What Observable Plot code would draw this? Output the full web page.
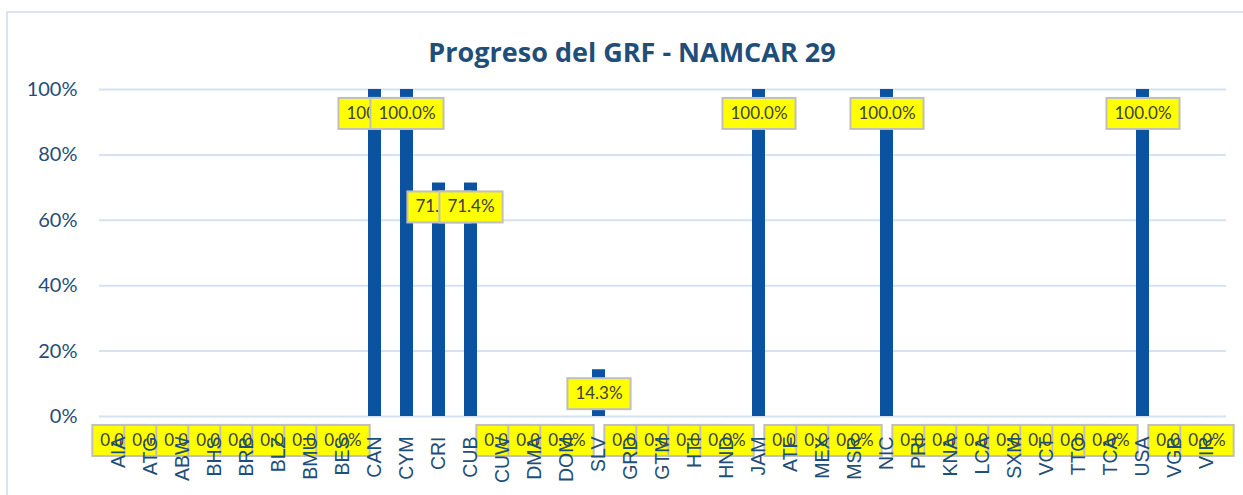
<!DOCTYPE html>
<html>
<head>
<meta charset="utf-8">
<script src="https://cdn.jsdelivr.net/npm/d3@7"></script>
<script src="https://cdn.jsdelivr.net/npm/@observablehq/plot@0.6"></script>
<style>
  body { margin: 0; background: #fff; }
  #wrap { position: relative; width: 1243px; height: 495px; overflow: hidden; }
  #border { position: absolute; left: 6px; top: 11px; width: 1400px; height: 700px; border: 2px solid #DAE3F3; pointer-events: none; }
</style>
</head>
<body>
<div id="wrap"><div id="chart"></div><div id="border"></div></div>
<script>
const title = "Progreso del GRF - NAMCAR 29";
const countries = ["AIA","ATG","ABW","BHS","BRB","BLZ","BMU","BES","CAN","CYM","CRI","CUB","CUW","DMA","DOM","SLV","GRD","GTM","HTI","HND","JAM","ATF","MEX","MSR","NIC","PRI","KNA","LCA","SXM","VCT","TTO","TCA","USA","VGB","VIR"];
const progress = [0,0,0,0,0,0,0,0,1.0,1.0,0.714,0.714,0,0,0,0.143,0,0,0,0,1.0,0,0,0,1.0,0,0,0,0,0,0,0,1.0,0,0];
const yTicks = [0,0.2,0.4,0.6,0.8,1.0];

const data = countries.map((c, i) => ({country: c, value: progress[i]}));
const navy = "#1F4E79";

const chart = Plot.plot({
  width: 1243,
  height: 495,
  marginLeft: 99,
  marginRight: 17,
  marginTop: 89,
  marginBottom: 79,
  style: {fontFamily: "Lato, sans-serif", background: "transparent", overflow: "visible"},
  x: {domain: countries, paddingInner: 0.6, paddingOuter: 0.3, label: null},
  y: {domain: [0, 1], label: null},
  marks: [
    Plot.gridY(yTicks, {stroke: "#D6E2F2", strokeOpacity: 1, strokeWidth: 2}),
    Plot.axisY(yTicks, {tickFormat: d3.format(".0%"), tickSize: 0, tickPadding: 22, fontSize: 20, fill: navy, label: null}),
    Plot.barY(data, {x: "country", y: "value", fill: "#0B52A1"}),
    Plot.text(data, {x: "country", y: "value", text: d => d3.format(".1%")(d.value), dy: 24, fontSize: 17, fill: "#404040", lineAnchor: "middle"}),
    Plot.axisX({tickRotate: -90, tickSize: 0, tickPadding: 20, fontSize: 19.5, fontFamily: "'Liberation Sans', Arial, sans-serif", fill: navy, label: null}),
    Plot.text([title], {frameAnchor: "top", dx: -31, dy: -47, fontSize: 27, fontWeight: "bold", fill: navy, fontFamily: "'Open Sans', sans-serif"})
  ]
});
document.getElementById("chart").appendChild(chart);

// draw yellow label boxes behind each data label text (interleaved so later boxes cover earlier ones)
const ns = "http://www.w3.org/2000/svg";
const labelGroup = chart.querySelectorAll('g[aria-label="text"]')[0];
labelGroup.querySelectorAll("text").forEach(t => {
  const b = t.getBBox();
  const r = document.createElementNS(ns, "rect");
  const padX = 8, h = 31;
  r.setAttribute("x", b.x - padX);
  r.setAttribute("y", b.y + b.height / 2 - h / 2 + 1);
  r.setAttribute("width", b.width + 2 * padX);
  r.setAttribute("height", h);
  r.setAttribute("fill", "#FFFF00");
  r.setAttribute("stroke", "#BFBFBF");
  r.setAttribute("stroke-width", 2);
  if (t.getAttribute("transform")) r.setAttribute("transform", t.getAttribute("transform"));
  t.parentNode.insertBefore(r, t);
});
</script>
</body>
</html>
